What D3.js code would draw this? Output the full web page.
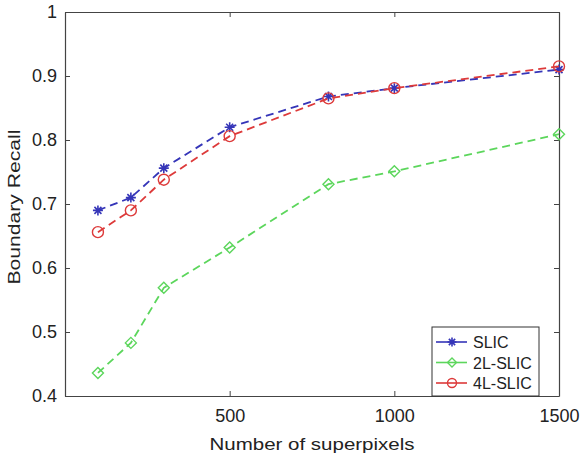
<!DOCTYPE html>
<html>
<head>
<meta charset="utf-8">
<script src="https://cdn.jsdelivr.net/npm/d3@7"></script>
<style>
  body { margin: 0; background: #fff; }
  text { font-family: "Liberation Sans", Arial, sans-serif; fill: #222; }
</style>
</head>
<body>
<div id="chart"></div>
<script>
// data
const superpixels = [100, 200, 300, 500, 800, 1000, 1500];
const slic   = [0.690, 0.710, 0.756, 0.820, 0.868, 0.881, 0.910];
const slic2L = [0.436, 0.483, 0.569, 0.632, 0.731, 0.751, 0.809];
const slic4L = [0.656, 0.690, 0.738, 0.806, 0.865, 0.881, 0.915];
const xTicks = [500, 1000, 1500];
const yTicks = [0.4, 0.5, 0.6, 0.7, 0.8, 0.9, 1];

const series = [
    {name: "SLIC", values: slic, color: "#3535b8", marker: "star"},
    {name: "2L-SLIC", values: slic2L, color: "#5cd65c", marker: "diamond"},
    {name: "4L-SLIC", values: slic4L, color: "#dd3a3a", marker: "circle"}
];

const W = 582, H = 457;
const margin = {top: 12, right: 23, bottom: 61, left: 65};
const width = W - margin.left - margin.right;
const height = H - margin.top - margin.bottom;

const svg = d3.select("#chart").append("svg")
    .attr("width", W)
    .attr("height", H);
const g = svg.append("g")
    .attr("transform", "translate(" + margin.left + "," + margin.top + ")");

const x = d3.scaleLinear().domain([0, 1500]).range([0, width]);
const y = d3.scaleLinear().domain([0.4, 1]).range([height, 0]);

// axes with inward ticks, box style
const fmtY = d => d === 1 ? "1" : d3.format(".1f")(d);
const axBottom = g.append("g").attr("transform", "translate(0," + height + ")")
    .call(d3.axisBottom(x).tickValues(xTicks).tickFormat(d3.format("d")).tickSizeInner(-5).tickSizeOuter(0).tickPadding(13));
const axLeft = g.append("g")
    .call(d3.axisLeft(y).tickValues(yTicks).tickFormat(fmtY).tickSizeInner(-5).tickSizeOuter(0).tickPadding(8));
const axTop = g.append("g")
    .call(d3.axisTop(x).tickValues(xTicks).tickSizeInner(-5).tickSizeOuter(0).tickFormat(""));
const axRight = g.append("g").attr("transform", "translate(" + width + ",0)")
    .call(d3.axisRight(y).tickValues(yTicks).tickSizeInner(-5).tickSizeOuter(0).tickFormat(""));

[axBottom, axLeft, axTop, axRight].forEach(a => {
    a.select(".domain").attr("stroke", "#444").attr("stroke-width", 1.2);
    a.selectAll(".tick line").attr("stroke", "#444");
    a.selectAll(".tick text").style("font-size", "18px").attr("fill", "#222");
});

// axis titles
svg.append("text")
    .attr("x", margin.left + width / 2)
    .attr("y", 450)
    .attr("text-anchor", "middle")
    .attr("textLength", 205)
    .attr("lengthAdjust", "spacingAndGlyphs")
    .style("font-size", "17px")
    .text("Number of superpixels");
svg.append("text")
    .attr("transform", "translate(20," + (margin.top + height / 2 + 3) + ") rotate(-90)")
    .attr("text-anchor", "middle")
    .attr("textLength", 155)
    .attr("lengthAdjust", "spacingAndGlyphs")
    .style("font-size", "17px")
    .text("Boundary Recall");

const line = d3.line()
    .x((d, i) => x(superpixels[i]))
    .y(d => y(d));

// markers
function drawMarker(sel, type, color, size) {
    if (type === "star") {
        const s = size;
        sel.append("path")
            .attr("d", "M" + (-s) + ",0L" + s + ",0M0," + (-s) + "L0," + s +
                "M" + (-s * 0.7) + "," + (-s * 0.7) + "L" + (s * 0.7) + "," + (s * 0.7) +
                "M" + (-s * 0.7) + "," + (s * 0.7) + "L" + (s * 0.7) + "," + (-s * 0.7))
            .attr("stroke", color).attr("stroke-width", 1.6).attr("fill", "none");
    } else if (type === "diamond") {
        const s = size;
        sel.append("path")
            .attr("d", "M0," + (-s) + "L" + s + ",0L0," + s + "L" + (-s) + ",0Z")
            .attr("stroke", color).attr("stroke-width", 1.4).attr("fill", "none");
    } else {
        sel.append("circle").attr("r", size)
            .attr("stroke", color).attr("stroke-width", 1.4).attr("fill", "none");
    }
}

const plot = g.append("g");
// draw in order: 2L, SLIC, 4L (red on top)
[series[1], series[0], series[2]].forEach(s => {
    plot.append("path")
        .datum(s.values)
        .attr("d", line)
        .attr("fill", "none")
        .attr("stroke", s.color)
        .attr("stroke-width", 1.8)
        .attr("stroke-dasharray", "8,5");
    s.values.forEach((v, i) => {
        const m = plot.append("g")
            .attr("transform", "translate(" + x(superpixels[i]) + "," + y(v) + ")");
        drawMarker(m, s.marker, s.color, s.marker === "star" ? 5 : 5.5);
    });
});

// legend
const lg = g.append("g").attr("transform", "translate(" + (x(1500) - 127) + "," + (height - 69) + ")");
lg.append("rect")
    .attr("width", 107).attr("height", 69)
    .attr("fill", "#fff").attr("stroke", "#333").attr("stroke-width", 1);
series.forEach((s, i) => {
    const row = lg.append("g").attr("transform", "translate(0," + (15 + i * 20.5) + ")");
    row.append("line").attr("x1", 4).attr("x2", 35).attr("stroke", s.color).attr("stroke-width", 1.6);
    const m = row.append("g").attr("transform", "translate(20,0)");
    drawMarker(m, s.marker, s.color, 4.5);
    row.append("text").attr("x", 41).attr("y", 6).style("font-size", "16px").text(s.name);
});
</script>
</body>
</html>
